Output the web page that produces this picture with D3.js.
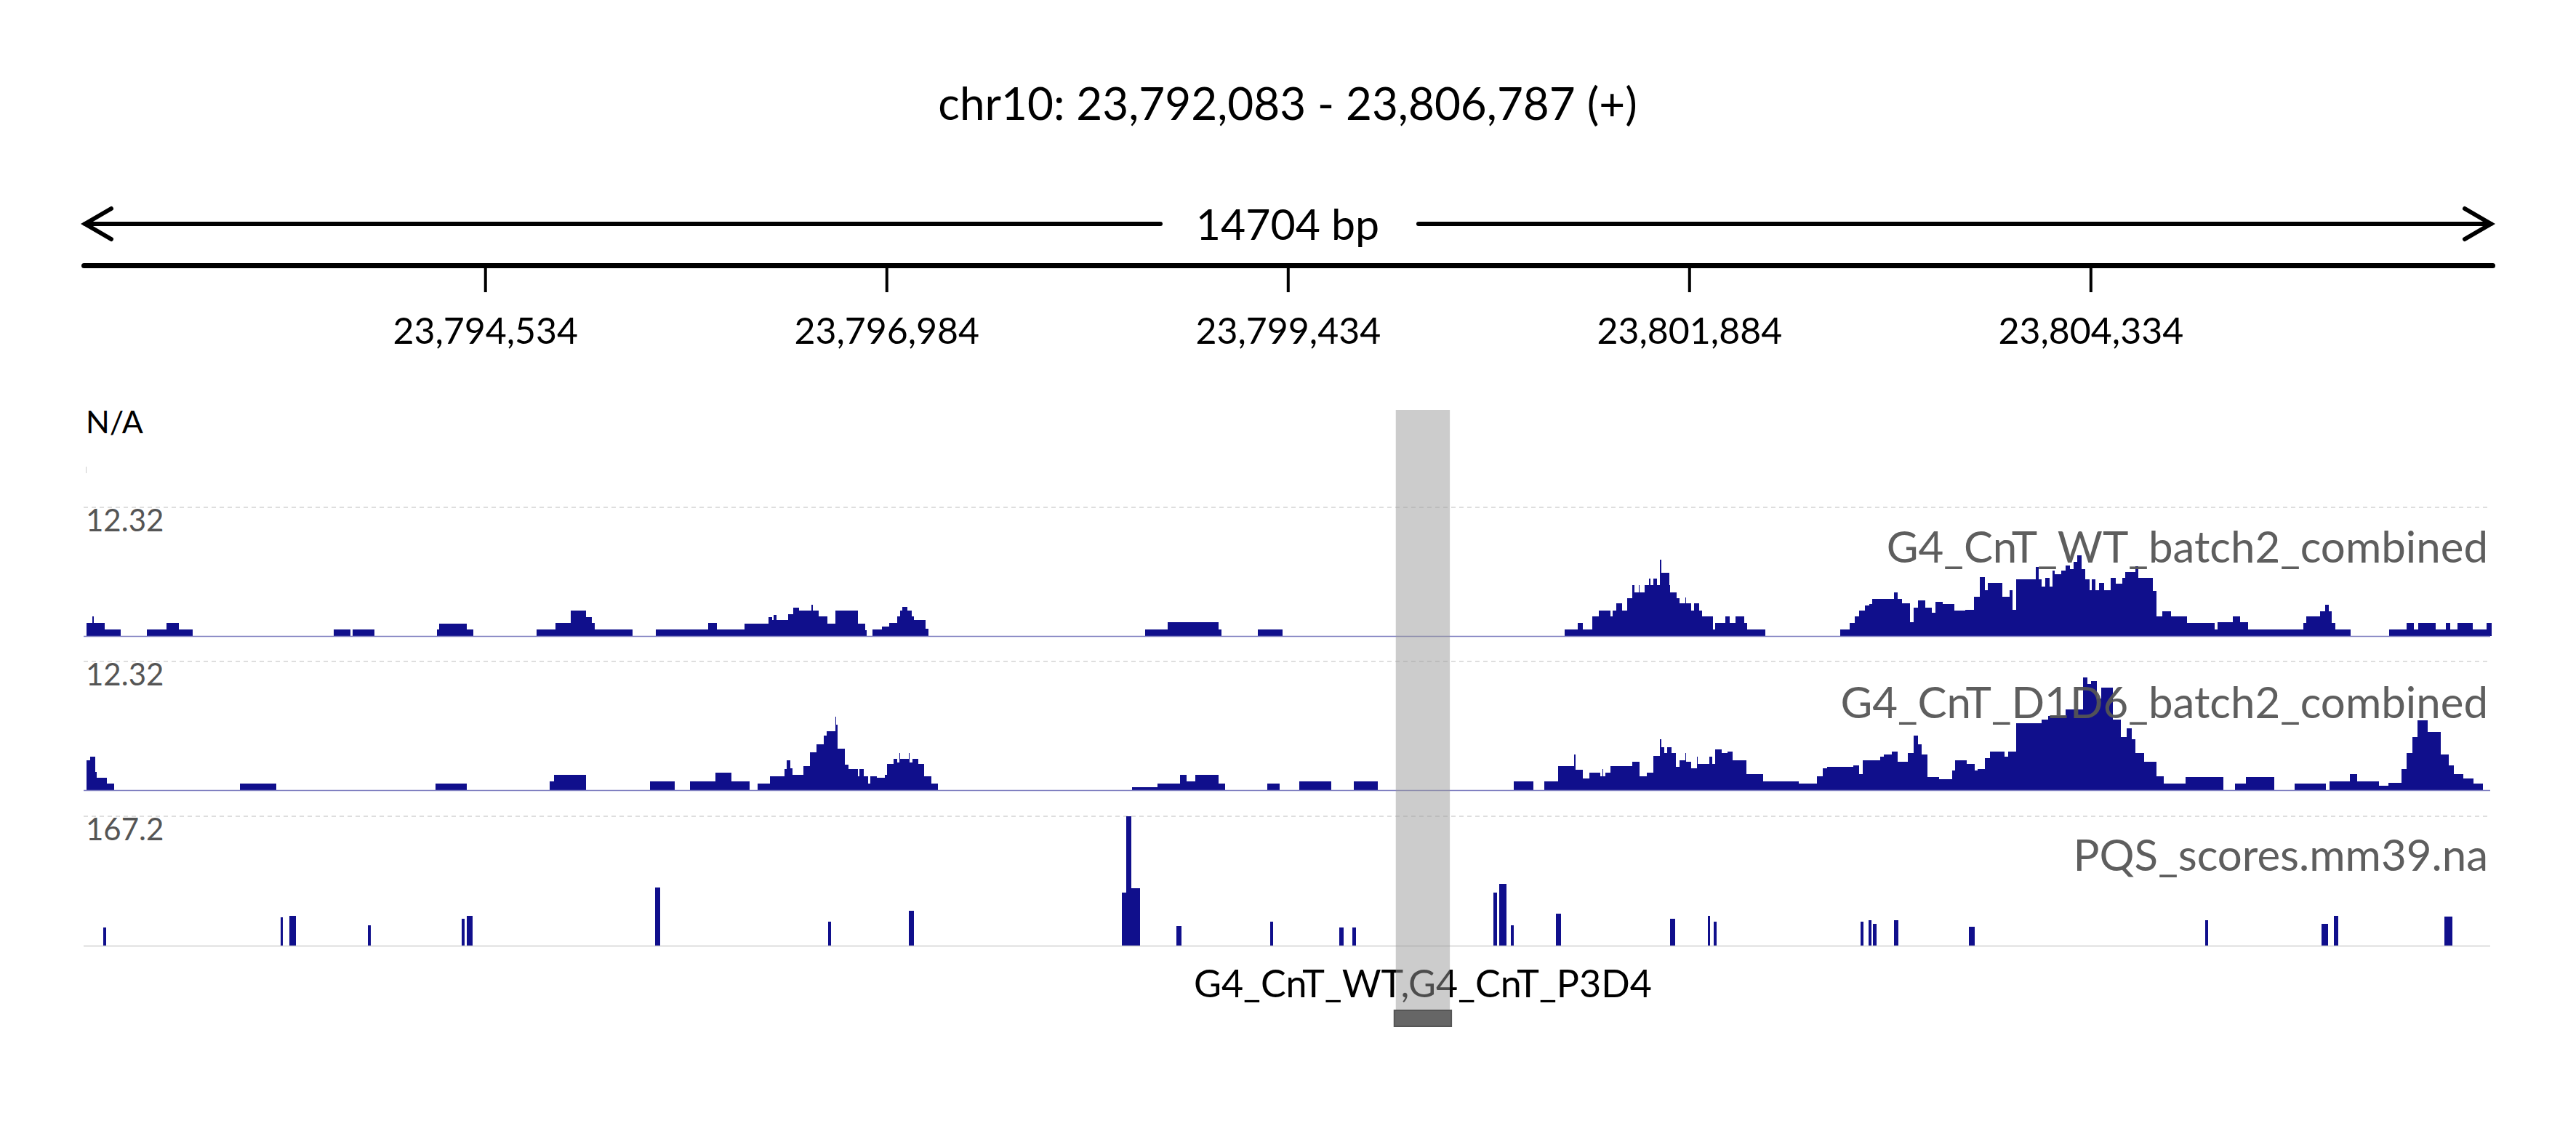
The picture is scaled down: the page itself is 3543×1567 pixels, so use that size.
<!DOCTYPE html>
<html>
<head>
<meta charset="utf-8">
<script src="https://cdn.jsdelivr.net/npm/d3@7"></script>
<style>
  body { margin: 0; background: #fff; }
  text { font-family: Lato, "Open Sans", sans-serif; }
</style>
</head>
<body>
<div id="igv"></div>
<script>
// region shown
var chrom = "chr10",
    regionStart = 23792083,
    regionEnd = 23806787;

var rulerTicks = [23794534, 23796984, 23799434, 23801884, 23804334];

// bigwig bins: [start offset bp, end offset bp, value]
var wtBins = [
  [16,52,1.25],[52,60,1.86],[60,130,1.25],[130,226,0.61],
  [387,504,0.61],[504,582,1.25],[582,666,0.61],
  [1527,1629,0.61],[1641,1777,0.61],
  [2155,2169,0.61],[2169,2338,1.15],[2338,2378,0.61],
  [2764,2882,0.61],[2882,2973,1.25],[2973,3066,2.43],[3066,3104,1.79],[3104,3120,1.25],[3120,3351,0.61],
  [3494,3814,0.61],[3814,3866,1.25],[3866,4035,0.61],[4035,4180,1.15],[4180,4202,1.79],[4202,4214,1.52],
  [4214,4228,2.0],[4228,4302,1.52],[4302,4330,2.1],[4330,4368,2.7],[4368,4444,2.43],[4444,4452,2.97],
  [4452,4487,2.43],[4487,4542,1.86],[4542,4587,1.18],[4587,4725,2.43],[4725,4773,1.18],[4773,4782,0.57],
  [4815,4875,0.61],[4875,4918,0.91],[4918,4968,1.25],[4968,4982,1.86],[4982,4999,2.43],[4999,5027,2.8],
  [5027,5056,2.43],[5056,5070,1.86],[5070,5141,1.52],[5141,5158,0.67],
  [6478,6616,0.61],[6616,6930,1.32],[6930,6944,0.61],
  [7170,7318,0.61],
  [9041,9120,0.61],[9120,9151,1.25],[9151,9210,0.61],[9210,9248,1.86],[9248,9320,2.46],[9320,9334,1.86],
  [9334,9358,2.46],[9358,9391,3.1],[9391,9422,2.46],[9422,9453,3.65],[9453,9467,4.9],[9467,9493,4.2],
  [9493,9500,4.9],[9500,9531,4.2],[9531,9557,4.9],[9557,9565,5.5],[9565,9584,4.9],[9584,9603,5.47],
  [9603,9624,4.9],[9624,9631,7.3],[9631,9679,6.08],[9679,9684,4.9],[9684,9724,4.2],[9724,9741,3.65],
  [9741,9776,3.1],[9776,9783,3.68],[9783,9812,3.1],[9812,9829,2.46],[9829,9862,3.1],[9862,9881,2.46],
  [9881,9945,1.86],[9945,9960,0.61],[9960,10021,1.25],[10021,10047,1.86],[10047,10083,1.25],
  [10083,10135,1.86],[10135,10155,1.25],[10155,10266,0.61],
  [10723,10782,0.61],[10782,10813,1.25],[10813,10840,1.86],[10840,10873,2.46],[10873,10901,2.94],
  [10901,10918,3.04],[10918,11051,3.55],[11051,11075,4.2],[11075,11099,3.55],[11099,11147,3.1],
  [11147,11172,1.35],[11172,11196,2.7],[11196,11244,3.38],[11244,11280,2.7],[11280,11304,2.2],
  [11304,11347,3.3],[11347,11419,3.04],[11419,11485,2.43],[11485,11540,2.53],[11540,11574,3.78],
  [11574,11605,5.67],[11605,11622,4.4],[11622,11713,5.06],[11713,11757,3.78],[11757,11773,4.4],
  [11773,11797,2.53],[11797,11918,5.4],[11918,11935,6.58],[11935,11954,5.4],[11954,11973,4.73],
  [11973,12002,5.57],[12002,12019,4.73],[12019,12033,6.24],[12033,12074,5.9],[12074,12098,6.24],
  [12098,12127,6.75],[12127,12146,6.4],[12146,12170,7.1],[12170,12195,7.7],[12195,12219,6.4],
  [12219,12243,5.4],[12243,12260,4.4],[12260,12279,5.4],[12279,12303,4.4],[12303,12332,5.06],
  [12332,12375,4.4],[12375,12406,5.57],[12406,12447,5.0],[12447,12464,5.57],[12464,12524,6.14],
  [12524,12544,6.68],[12544,12633,5.57],[12633,12652,4.32],[12652,12688,1.86],[12688,12744,2.36],
  [12744,12840,1.86],[12840,13008,1.25],[13008,13025,0.61],[13025,13121,1.35],[13121,13165,1.86],
  [13165,13213,1.35],[13213,13548,0.61],[13548,13567,1.25],[13567,13651,1.86],[13651,13683,2.36],
  [13683,13707,2.97],[13707,13723,2.36],[13723,13747,1.25],[13747,13839,0.61],
  [14075,14181,0.61],[14181,14224,1.25],[14224,14253,0.61],[14253,14356,1.25],[14356,14421,0.61],
  [14421,14446,1.25],[14446,14489,0.61],[14489,14583,1.25],[14583,14670,0.61],[14670,14698,1.25]
];

var d1d6Bins = [
  [16,40,2.87],[40,71,3.2],[71,80,1.75],[80,142,1.18],[142,185,0.61],
  [953,1177,0.64],[2148,2340,0.64],[2845,2871,0.84],[2871,3066,1.49],[3458,3608,0.84],
  [3700,3857,0.84],[3857,3954,1.65],[3954,4066,0.84],
  [4114,4190,0.61],[4190,4278,1.35],[4278,4292,2.0],[4292,4314,2.87],[4314,4328,2.1],[4328,4394,1.49],
  [4394,4435,2.3],[4435,4475,3.65],[4475,4518,4.39],[4518,4535,5.23],[4535,4587,5.67],[4587,4592,7.0],
  [4592,4601,6.24],[4601,4647,3.95],[4647,4670,2.43],[4670,4725,2.0],[4725,4737,1.35],[4737,4761,2.0],
  [4761,4789,1.35],[4789,4803,0.61],[4803,4844,1.35],[4844,4891,1.18],[4891,4903,1.49],[4903,4946,2.53],
  [4946,4968,2.97],[4968,4978,2.63],[4978,4982,3.54],[4982,5037,2.97],[5037,5041,3.54],[5041,5058,2.63],
  [5058,5094,2.97],[5094,5129,2.5],[5129,5177,1.35],[5177,5215,0.61],
  [6402,6557,0.27],[6557,6692,0.64],[6692,6733,1.49],[6733,6787,0.84],[6787,6930,1.49],[6930,6966,0.64],
  [7227,7299,0.64],
  [7419,7614,0.84],[7752,7900,0.84],[8732,8851,0.84],[8915,9001,0.84],[9001,9100,2.33],[9100,9106,3.38],
  [9106,9153,1.92],[9153,9191,1.08],[9191,9260,1.69],[9260,9272,1.35],[9272,9277,2.03],[9277,9291,1.35],
  [9291,9320,1.69],[9320,9453,2.33],[9453,9498,2.7],[9498,9541,1.35],[9541,9584,1.69],[9584,9624,3.3],
  [9624,9630,4.86],[9630,9648,4.1],[9648,9667,3.55],[9667,9691,4.1],[9691,9719,3.55],[9719,9743,2.2],
  [9743,9776,2.87],[9776,9779,3.54],[9779,9812,2.7],[9812,9848,2.1],[9848,9850,3.2],[9850,9922,2.53],
  [9922,9940,3.2],[9940,9960,2.53],[9960,10000,3.88],[10000,10036,3.55],[10036,10064,3.7],
  [10064,10152,2.87],[10152,10254,1.52],[10254,10468,0.84],[10468,10583,0.61],[10583,10616,1.35],
  [10616,10642,2.1],[10642,10802,2.2],[10802,10837,2.36],[10837,10861,1.52],[10861,10968,2.87],
  [10968,10991,3.2],
  [10991,11039,3.38],[11039,11075,3.71],[11075,11135,2.7],[11135,11172,3.54],[11172,11196,5.23],
  [11196,11220,4.39],[11220,11256,3.38],[11256,11328,1.28],[11328,11405,1.01],[11405,11424,1.86],
  [11424,11497,2.87],[11497,11545,2.53],[11545,11562,1.86],[11562,11605,2.03],[11605,11636,3.04],
  [11636,11725,3.71],[11725,11749,3.2],[11749,11797,3.71],[11797,11954,6.41],[11954,11990,6.75],
  [11990,12098,7.09],[12098,12207,7.76],[12207,12231,10.8],[12231,12255,10.13],[12255,12291,10.46],
  [12291,12315,8.78],[12315,12387,9.79],[12387,12435,6.75],[12435,12471,5.06],[12471,12503,5.9],
  [12503,12527,4.89],[12527,12580,3.54],[12580,12652,2.7],[12652,12700,1.35],[12700,12833,0.61],
  [12833,13061,1.28],[13133,13201,0.61],[13201,13374,1.28],[13499,13687,0.61],[13711,13832,0.84],
  [13832,13880,1.52],[13880,14012,0.84],[14012,14068,0.4],[14068,14150,0.67],[14150,14181,2.03],
  [14181,14217,3.54],[14217,14246,5.06],[14246,14308,6.65],[14308,14332,5.57],[14332,14390,5.57],
  [14390,14438,3.38],[14438,14470,2.36],[14470,14525,1.52],[14525,14590,1.08],[14590,14645,0.61]
];

var pqsBins = [
  [119,138,23.3],[1201,1215,37],[1258,1294,38.8],[1734,1753,26.5],[2309,2324,34.7],[2340,2373,38.8],
  [3489,3518,74.9],[4544,4563,31],[5039,5068,44.8],[6338,6366,68.5],[6366,6395,167.2],[6397,6447,74],
  [6671,6704,25.6],[7244,7263,31],[7667,7690,23.3],[7747,7769,23.3],[8606,8630,68.5],[8642,8687,80],
  [8713,8732,26.5],[8987,9020,41.1],[9686,9717,34.7],[9914,9929,38.4],[9950,9967,31],[10847,10866,31],
  [10894,10913,33.3],[10921,10944,27.9],[11051,11080,33.3],[11509,11545,24.2],[12951,12970,32.9],
  [13663,13699,27.9],[13735,13764,38.4],[14409,14462,37.5]
];

var trackNames = ["G4_CnT_WT_batch2_combined", "G4_CnT_D1D6_batch2_combined", "PQS_scores.mm39.na"];
var trackMax = [12.32, 12.32, 167.2];
var trackMaxLabels = ["12.32", "12.32", "167.2"];

// the roi / feature shown at the bottom
var feature = { start: 8010, end: 8340, name: "G4_CnT_WT,G4_CnT_P3D4" };

var W = 3543, H = 1567;
var navy = "#100f8c";

var svg = d3.select("#igv").append("svg")
    .attr("width", W)
    .attr("height", H);

var x = d3.scaleLinear()
  .domain([regionStart, regionEnd])
  .range([115, 3428]);

var fmt = d3.format(",");

// title
svg.append("text")
    .attr("x", 1771)
    .attr("y", 165)
    .attr("text-anchor", "middle")
    .style("font-size", "62px")
    .text(chrom + ": " + fmt(regionStart) + " - " + fmt(regionEnd) + " (+)");

// width arrow
var arrowY = 308;
svg.append("text")
    .attr("x", 1771)
    .attr("y", arrowY + 22)
    .attr("text-anchor", "middle")
    .style("font-size", "59px")
    .text((regionEnd - regionStart) + " bp");

var arrowG = svg.append("g")
    .attr("stroke", "#000")
    .attr("stroke-width", 6)
    .attr("stroke-linecap", "round")
    .attr("fill", "none");
arrowG.append("line").attr("x1", x.range()[0] + 2).attr("x2", 1596).attr("y1", arrowY).attr("y2", arrowY);
arrowG.append("line").attr("x1", 1951).attr("x2", x.range()[1] - 2).attr("y1", arrowY).attr("y2", arrowY);
arrowG.append("polyline")
    .attr("points", [[x.range()[0] + 38, arrowY - 21], [x.range()[0] + 2, arrowY], [x.range()[0] + 38, arrowY + 21]].join(" "));
arrowG.append("polyline")
    .attr("points", [[x.range()[1] - 38, arrowY - 21], [x.range()[1] - 2, arrowY], [x.range()[1] - 38, arrowY + 21]].join(" "));

// ruler
var ruler = svg.append("g")
    .attr("transform", "translate(0,365)")
    .call(d3.axisBottom(x)
      .tickValues(rulerTicks)
      .tickFormat(fmt)
      .tickSize(37)
      .tickSizeOuter(0)
      .tickPadding(35));
ruler.select(".domain")
    .attr("stroke", "#000")
    .attr("stroke-width", 7)
    .attr("stroke-linecap", "round");
ruler.selectAll(".tick line").attr("stroke", "#000").attr("stroke-width", 4);
ruler.selectAll(".tick text")
    .attr("fill", "#000")
    .style("font-family", "Lato, sans-serif")
    .style("font-size", "50px");

// empty track
svg.append("text")
    .attr("x", 118)
    .attr("y", 596)
    .style("font-size", "43px")
    .text("N/A");
svg.append("line")
    .attr("x1", 118.5).attr("x2", 118.5)
    .attr("y1", 642).attr("y2", 651)
    .attr("stroke", "#ccc")
    .attr("stroke-width", 1);

// data tracks
var tracks = [
  { bins: wtBins, top: 698, bottom: 875, labelY: 774, baseColor: "#7d7dbf" },
  { bins: d1d6Bins, top: 910, bottom: 1087, labelY: 988, baseColor: "#7d7dbf" },
  { bins: pqsBins, top: 1123, bottom: 1301, labelY: 1198, baseColor: "#d0d0d0" }
];

tracks.forEach(function (t, i) {
  var y = d3.scaleLinear()
    .domain([0, trackMax[i]])
    .range([t.bottom, t.top]);

  var g = svg.append("g");

  // dashed line at the data range max
  g.append("line")
      .attr("x1", x.range()[0]).attr("x2", x.range()[1] - 3)
      .attr("y1", y(trackMax[i])).attr("y2", y(trackMax[i]))
      .attr("stroke", "#d4d4d4")
      .attr("stroke-width", 1.5)
      .attr("stroke-dasharray", "6,5");

  g.append("text")
      .attr("x", 118)
      .attr("y", y(trackMax[i]) + 33)
      .attr("fill", "#555")
      .style("font-size", "42px")
      .text(trackMaxLabels[i]);

  g.selectAll("rect.bin")
    .data(t.bins)
    .enter()
    .append("rect")
      .attr("class", "bin")
      .attr("x", function (d) { return x(regionStart + d[0]); })
      .attr("width", function (d) { return Math.max(1, x(regionStart + d[1]) - x(regionStart + d[0])); })
      .attr("y", function (d) { return y(d[2]); })
      .attr("height", function (d) { return y(0) - y(d[2]); })
      .attr("fill", navy)
      .attr("shape-rendering", "crispEdges");

  g.append("line")
      .attr("x1", x.range()[0]).attr("x2", x.range()[1] - 3)
      .attr("y1", y(0) + 0.5).attr("y2", y(0) + 0.5)
      .attr("stroke", t.baseColor)
      .attr("stroke-width", 1.5);

  g.append("text")
      .attr("x", 3422)
      .attr("y", t.labelY)
      .attr("text-anchor", "end")
      .attr("fill", "#555")
      .attr("fill-opacity", 0.95)
      .style("font-size", "60px")
      .text(trackNames[i]);
});

// feature label under the tracks
svg.append("text")
    .attr("x", (x(regionStart + feature.start) + x(regionStart + feature.end)) / 2)
    .attr("y", 1372)
    .attr("text-anchor", "middle")
    .attr("fill", "#000")
    .style("font-size", "52px")
    .text(feature.name);

// region of interest highlight
svg.append("rect")
    .attr("x", x(regionStart + feature.start))
    .attr("width", x(regionStart + feature.end) - x(regionStart + feature.start))
    .attr("y", 564)
    .attr("height", 1390 - 564)
    .attr("fill", "#999")
    .attr("fill-opacity", 0.5);

// feature block
svg.append("rect")
    .attr("x", x(regionStart + feature.start) - 2)
    .attr("width", x(regionStart + feature.end) - x(regionStart + feature.start) + 4)
    .attr("y", 1390)
    .attr("height", 22)
    .attr("fill", "#666")
    .attr("stroke", "#555")
    .attr("stroke-width", 2);
</script>
</body>
</html>
